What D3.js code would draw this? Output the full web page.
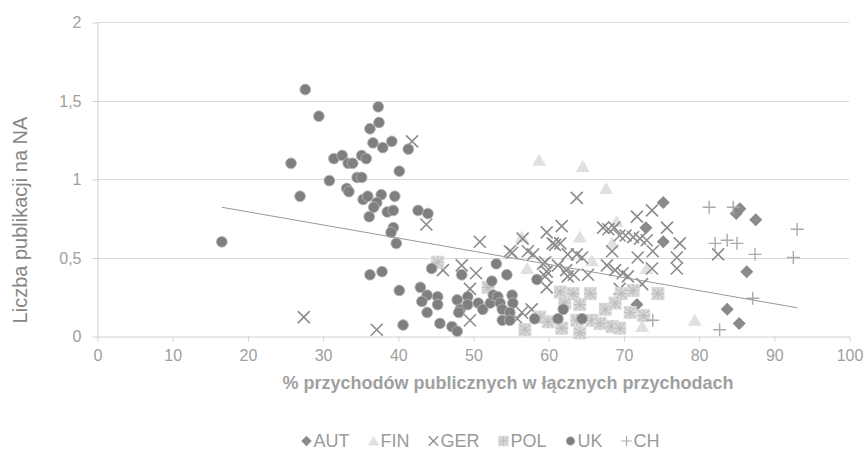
<!DOCTYPE html>
<html><head><meta charset="utf-8">
<script src="https://cdn.jsdelivr.net/npm/d3@7"></script>
<style>
body{margin:0;background:#fff}
svg{display:block}
text{font-family:"Liberation Sans",Arial,sans-serif}
</style>
</head><body>
<svg id="c" width="864" height="453"></svg>
<script>
// ---------- data ----------
const xTicks = [0,10,20,30,40,50,60,70,80,90,100];
const yTicks = [0,0.5,1,1.5,2];
const yTickLabels = ["0","0,5","1","1,5","2"];
const xTitle = "% przychodów publicznych w łącznych przychodach";
const yTitle = "Liczba publikacji na NA";
const seriesNames = ["AUT","FIN","GER","POL","UK","CH"];

const autPoints = [[75.3,0.85],[73.0,0.69],[75.3,0.60],[71.8,0.20],[85.5,0.81],[85.0,0.78],[87.6,0.74],[86.4,0.41],[83.8,0.17],[85.4,0.08]];
const finPoints = [[58.8,1.12],[64.6,1.08],[67.7,0.94],[56.5,0.63],[57.2,0.43],[64.2,0.63],[69.1,0.73],[68.5,0.59],[65.8,0.48],[73.1,0.43],[72.5,0.06],[79.5,0.10]];
const gerPoints = [[27.5,0.12],[37.2,0.04],[41.9,1.24],[43.8,0.71],[46.0,0.42],[48.5,0.45],[50.4,0.40],[49.6,0.30],[49.6,0.10],[50.9,0.60],[54.9,0.54],[55.9,0.11],[56.5,0.15],[57.8,0.17],[56.6,0.62],[57.3,0.54],[59.8,0.66],[60.9,0.58],[59.6,0.47],[59.8,0.41],[59.8,0.31],[63.8,0.88],[61.8,0.70],[60.6,0.59],[61.6,0.59],[62.6,0.52],[63.8,0.52],[64.5,0.50],[59.3,0.46],[59.6,0.38],[61.3,0.45],[62.4,0.42],[62.6,0.38],[63.4,0.39],[65.3,0.39],[67.3,0.69],[68.0,0.68],[68.8,0.69],[69.5,0.64],[70.3,0.64],[68.5,0.54],[67.8,0.45],[68.9,0.42],[69.9,0.40],[70.6,0.38],[71.8,0.76],[73.8,0.80],[71.3,0.63],[72.2,0.62],[73.1,0.61],[75.8,0.69],[73.9,0.54],[71.9,0.50],[73.8,0.43],[77.5,0.59],[77.1,0.50],[77.1,0.43],[82.6,0.52],[72.5,0.33],[69.5,0.30],[55.2,0.53],[58.0,0.52]];
const polPoints = [[45.3,0.47],[52.0,0.31],[56.9,0.04],[58.9,0.12],[61.6,0.28],[63.3,0.27],[65.6,0.27],[62.2,0.21],[64.2,0.20],[67.6,0.17],[68.9,0.21],[69.7,0.27],[71.3,0.29],[74.6,0.27],[70.9,0.15],[72.7,0.13],[61.8,0.05],[64.2,0.02],[63.8,0.10],[65.8,0.10],[66.9,0.08],[68.5,0.06],[69.5,0.05],[60.0,0.09]];
const ukPoints = [[16.6,0.60],[25.8,1.10],[27.7,1.57],[29.5,1.40],[27.0,0.89],[30.9,0.99],[31.5,1.13],[32.6,1.15],[33.4,1.10],[34.0,1.10],[35.2,1.15],[35.8,1.13],[33.2,0.94],[33.5,0.92],[34.6,1.01],[35.2,1.01],[35.4,0.87],[36.0,0.89],[36.3,1.32],[36.7,1.23],[37.4,1.46],[37.5,1.36],[38.0,1.20],[39.2,1.24],[41.4,1.19],[40.2,1.05],[37.8,0.90],[37.2,0.85],[36.8,0.82],[36.2,0.76],[38.6,0.79],[39.4,0.80],[39.6,0.89],[39.4,0.69],[39.1,0.66],[39.8,0.59],[42.7,0.80],[44.0,0.78],[36.3,0.39],[37.9,0.41],[40.2,0.29],[40.7,0.07],[44.5,0.43],[43.0,0.31],[43.9,0.26],[43.2,0.22],[43.9,0.15],[45.3,0.25],[45.3,0.20],[45.6,0.08],[47.2,0.06],[47.9,0.03],[47.9,0.23],[48.3,0.17],[48.1,0.15],[49.3,0.25],[49.3,0.20],[50.7,0.21],[51.3,0.17],[52.3,0.21],[52.7,0.26],[52.5,0.35],[53.3,0.25],[53.6,0.21],[55.2,0.26],[55.3,0.21],[53.9,0.17],[54.9,0.15],[53.9,0.10],[54.9,0.10],[48.5,0.39],[53.1,0.46],[54.5,0.39],[58.5,0.36],[58.2,0.11],[61.3,0.11],[62.0,0.17],[64.5,0.11]];
const chPoints = [[81.4,0.82],[84.6,0.82],[93.1,0.68],[82.2,0.59],[83.8,0.61],[85.1,0.59],[87.5,0.52],[92.6,0.50],[87.2,0.24],[82.8,0.04],[73.9,0.10]];
const trendX = [16.6, 93.1];
const trendY = [0.82, 0.18];

// ---------- layout ----------
const W = 864, H = 453;
const plot = {left:97, right:849, top:22, bottom:336};
const svg = d3.select("#c");
const x = d3.scaleLinear().domain([0,100]).range([plot.left, plot.right]);
const y = d3.scaleLinear().domain([0,2]).range([plot.bottom, plot.top]);

const axisColor = "#d0d0d0", gridColor = "#d9d9d9", labelColor = "#a0a0a0";

// gridlines
svg.append("g").selectAll("line").data(yTicks.filter(d=>d>0)).join("line")
  .attr("x1", plot.left).attr("x2", plot.right)
  .attr("y1", d=>Math.round(y(d))+0.5).attr("y2", d=>Math.round(y(d))+0.5)
  .attr("stroke", gridColor).attr("stroke-width",1);

// axes
const yAxis = svg.append("g").attr("transform",`translate(${plot.left+0.5},0.5)`)
  .call(d3.axisLeft(y).tickValues(yTicks).tickFormat((d,i)=>yTickLabels[i]).tickSize(5).tickSizeOuter(0).tickPadding(11));
const xAxis = svg.append("g").attr("transform",`translate(0.5,${plot.bottom+0.5})`)
  .call(d3.axisBottom(x).tickValues(xTicks).tickSize(5).tickSizeOuter(0).tickPadding(8));
[yAxis,xAxis].forEach(g=>{
  g.select(".domain").attr("stroke", axisColor);
  g.selectAll(".tick line").attr("stroke", axisColor);
  g.selectAll(".tick text").attr("fill", labelColor).style("font-size","16px").style("font-family",'"Liberation Sans",Arial,sans-serif');
});

// marker shapes
const shapes = {
  AUT: g => g.append("path").attr("d","M0,-6.5L6.5,0L0,6.5L-6.5,0Z").attr("fill","#8a8a8a"),
  FIN: g => g.append("path").attr("d","M0,-6.5L7,5.5L-7,5.5Z").attr("fill","#e0e0e0"),
  GER: g => g.append("path").attr("d","M-6,-6L6,6M6,-6L-6,6").attr("stroke","#8c8c8c").attr("stroke-width",1.6).attr("fill","none"),
  POL: g => { g.append("rect").attr("x",-6.5).attr("y",-6.5).attr("width",13).attr("height",13).attr("fill","#dadada");
              g.append("path").attr("d","M-5,-5L5,5M5,-5L-5,5M0,-6V6M-6,0H6").attr("stroke","#bdbdbd").attr("stroke-width",1.1).attr("fill","none"); },
  UK:  g => g.append("circle").attr("r",5.4).attr("fill","#7f7f7f").attr("stroke","#b8b8b8").attr("stroke-width",0.8),
  CH:  g => g.append("path").attr("d","M-6.5,0H6.5M0,-6.5V6.5").attr("stroke","#ababab").attr("stroke-width",1.4).attr("fill","none")
};

const seriesData = {AUT:autPoints, FIN:finPoints, GER:gerPoints, POL:polPoints, UK:ukPoints, CH:chPoints};

seriesNames.forEach(name=>{
  const g = svg.append("g");
  g.selectAll("g").data(seriesData[name]).join("g")
    .attr("transform", d=>`translate(${x(d[0])},${y(d[1])})`)
    .each(function(){ shapes[name](d3.select(this)); });
});

// trendline
svg.append("path")
  .datum(trendX.map((d,i)=>[d,trendY[i]]))
  .attr("d", d3.line().x(d=>x(d[0])).y(d=>y(d[1])))
  .attr("stroke","#999").attr("stroke-width",1).attr("fill","none");

// axis titles
svg.append("text").attr("transform","translate(20,220) rotate(-90)")
  .attr("text-anchor","middle").attr("dy","0.35em")
  .attr("fill","#858585").style("font-size","20px").text(yTitle);
svg.append("text").attr("x",508).attr("y",383).attr("dy","0.35em")
  .attr("text-anchor","middle").attr("fill","#a0a0a0")
  .style("font-size","18px").style("font-weight","bold").text(xTitle);

// legend
const leg = svg.append("g");
let cx = 0;
seriesNames.forEach(name=>{
  const item = leg.append("g").attr("transform",`translate(${cx},0)`);
  const m = item.append("g").attr("transform","translate(6,0) scale(0.8)");
  shapes[name](m);
  const t = item.append("text").attr("x",13).attr("dy","0.35em").attr("fill","#9a9a9a")
    .style("font-size","18px").text(name);
  cx += 13 + t.node().getComputedTextLength() + 18;
});
const legW = cx - 18;
leg.attr("transform",`translate(${480 - legW/2},441)`);
</script>
</body></html>
